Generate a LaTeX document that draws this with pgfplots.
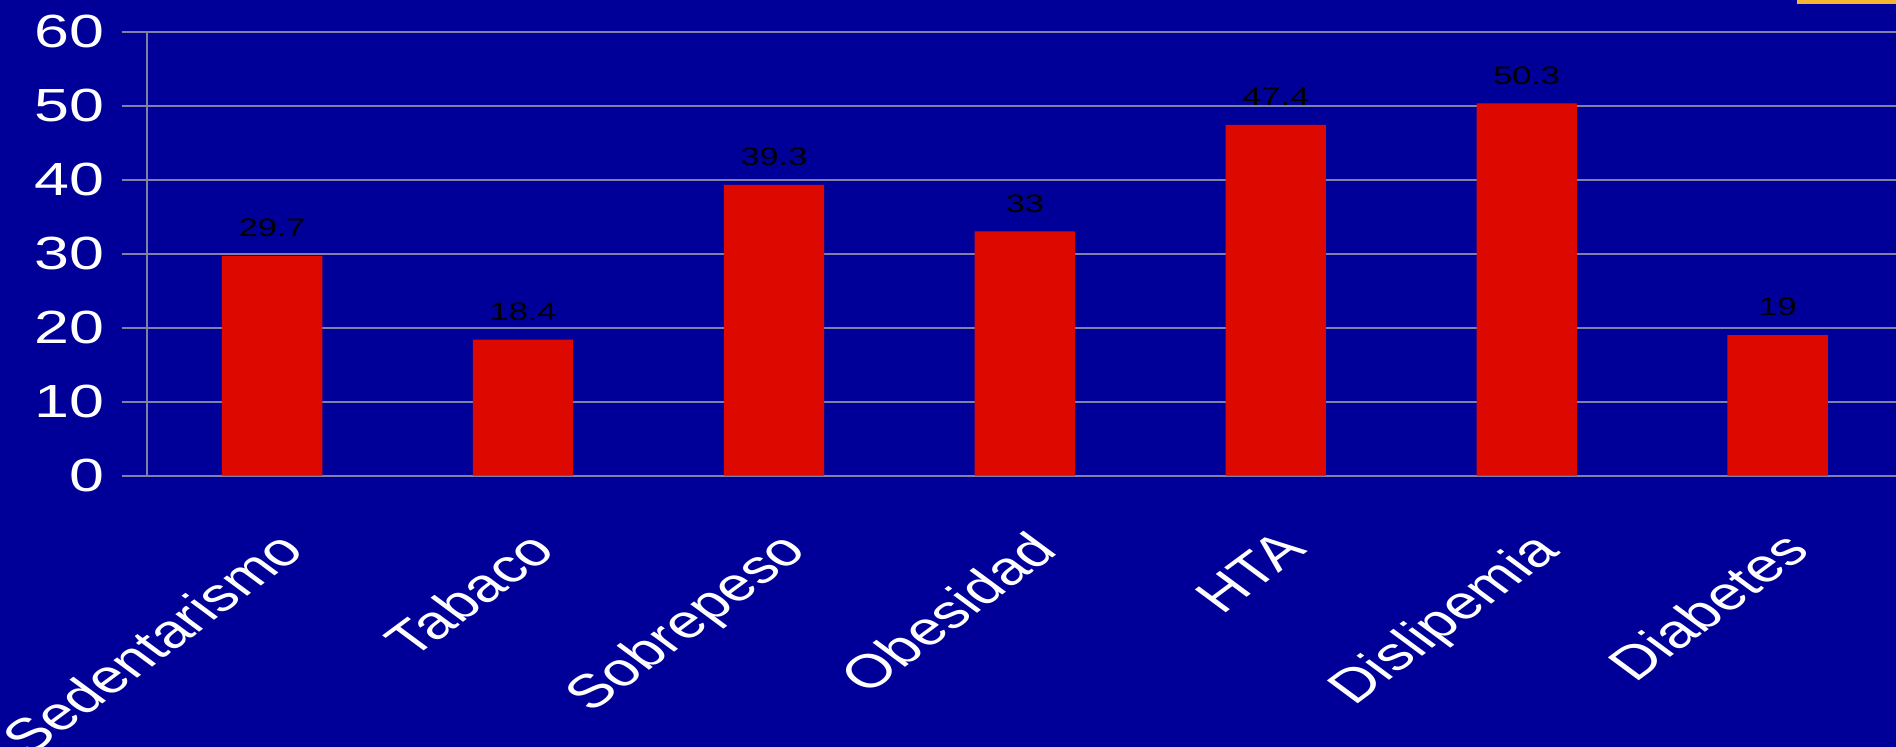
\documentclass[border=0pt]{standalone}
\usepackage{fontspec}
\setmainfont{Liberation Sans}
\usepackage{pgfplots}
\pgfplotsset{compat=1.18}
\definecolor{bgblue}{RGB}{0,0,153}
\definecolor{barred}{RGB}{221,8,0}
\definecolor{gridgray}{RGB}{128,128,165}
\definecolor{accent}{RGB}{245,180,50}

\begin{document}
\begin{tikzpicture}
\fill[bgblue] (-73.35pt,-135.65pt) rectangle (874.65pt,237.85pt);
\begin{axis}[
    at={(0,0)}, anchor=south west,
    scale only axis, width=874.65pt, height=222pt,
    xmin=-0.5, xmax=6.472, ymin=0, ymax=60,
    ybar, bar width=0.4,
    axis lines=left,
    axis line style={-, draw=gridgray, line width=1pt},
    /pgf/number format/assume math mode=true,
    ytick={0,10,...,60},
    ymajorgrids, grid style={gridgray, line width=1pt},
    tick align=outside,
    major tick length=12.5pt,
    y tick style={draw=gridgray, line width=1pt},
    yticklabel style={font=\fontsize{23.25}{26}\selectfont, text=white,
        xshift=-4pt, xscale=1.35},
    xtick={0,...,6},
    xticklabels={Sedentarismo,Tabaco,Sobrepeso,Obesidad,HTA,Dislipemia,Diabetes},
    x tick style={draw=none},
    xticklabel style={font=\fontsize{23.5}{28}\selectfont, text=white,
        xshift=1pt, yshift=-9pt, xscale=1.35, rotate=45, anchor=north east},
    extra x ticks={-0.5,0.5,...,5.5},
    extra x tick labels={},
    extra x tick style={grid=none, major tick length=9pt,
        tick style={draw=gridgray, line width=1pt}},
    nodes near coords,
    every node near coord/.append style={font=\fontsize{12.7}{14}\selectfont,
        text=black, xscale=1.35, yshift=6pt},
]
\addplot[fill=barred, draw=none] coordinates {
    (0,29.7) (1,18.4) (2,39.3) (3,33) (4,47.4) (5,50.3) (6,19)
};
\end{axis}
\fill[accent] (825.15pt,235.6pt) rectangle (874.65pt,237.85pt);
\pgfresetboundingbox
\useasboundingbox (-73.35pt,-135.65pt) rectangle (874.65pt,237.85pt);
\end{tikzpicture}
\end{document}
